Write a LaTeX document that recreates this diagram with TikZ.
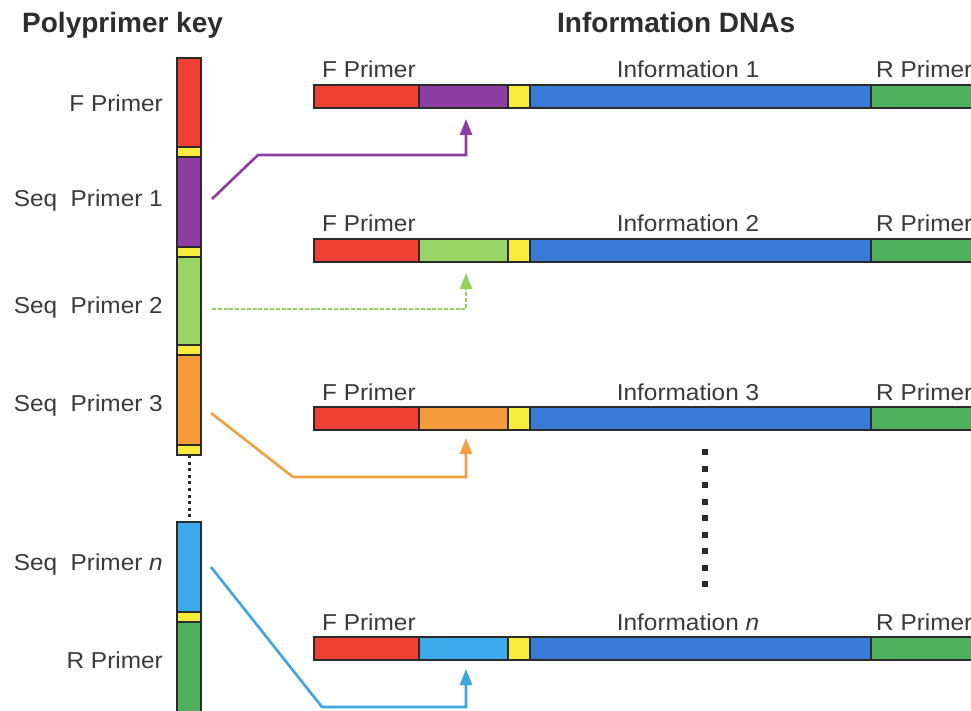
\documentclass[tikz,border=0pt]{standalone}
\usepackage{fontspec}
\setmainfont{Liberation Sans}
\newfontfamily\labfont[FakeStretch=1.06]{Liberation Sans}
\usetikzlibrary{arrows.meta,calc}
\definecolor{cred}{RGB}{240,64,54}
\definecolor{cpurple}{RGB}{142,62,162}
\definecolor{cgreenl}{RGB}{152,212,102}
\definecolor{corange}{RGB}{244,156,60}
\definecolor{cyellow}{RGB}{248,236,60}
\definecolor{cblue}{RGB}{56,122,214}
\definecolor{cbluel}{RGB}{60,170,234}
\definecolor{cgreen}{RGB}{78,176,92}
\definecolor{edgec}{RGB}{42,42,42}
\definecolor{textc}{RGB}{58,58,58}
\definecolor{titlec}{RGB}{45,45,45}
\definecolor{apurple}{RGB}{145,60,165}
\definecolor{agreen}{RGB}{150,208,95}
\definecolor{aorange}{RGB}{240,160,62}
\definecolor{ablue}{RGB}{62,165,225}
\begin{document}
\begin{tikzpicture}[x=1pt,y=-1pt,
  seg/.style={draw=edgec,line width=1.3pt,inner sep=0pt,outer sep=0pt,anchor=north west,minimum height=23pt},
  kseg/.style={draw=edgec,line width=1.3pt,inner sep=0pt,outer sep=0pt,anchor=north west,minimum width=24pt},
  lab/.style={text=textc,inner sep=0pt,font=\labfont\fontsize{23}{27}\selectfont},
  ttl/.style={text=titlec,inner sep=0pt,anchor=base west,font=\bfseries\fontsize{28}{32}\selectfont},
  conn/.style={line width=2.6pt,-{Triangle[length=16pt,width=12pt]}},
  keydots/.style={line width=3pt,dash pattern=on 3pt off 3.6pt,draw=edgec},
  bigdots/.style={line width=6pt,dash pattern=on 6pt off 10.5pt,draw=edgec},
]
\useasboundingbox (0,0) rectangle (971,711);
\fill[white] (0,0) rectangle (971,711);
\clip (0,0) rectangle (971,711);

% titles
\node[ttl] (t1) at (22,33) {Polyprimer key};
\node[ttl] (t2) at (557,33) {Information DNAs};

% polyprimer key column
\node[kseg,fill=cred,minimum height=89pt] (kf) at (177,58) {};
\node[kseg,fill=cyellow,minimum height=10pt] (ky1) at (177,147) {};
\node[kseg,fill=cpurple,minimum height=90pt] (k1) at (177,157) {};
\node[kseg,fill=cyellow,minimum height=10pt] (ky2) at (177,247) {};
\node[kseg,fill=cgreenl,minimum height=88pt] (k2) at (177,257) {};
\node[kseg,fill=cyellow,minimum height=10pt] (ky3) at (177,345) {};
\node[kseg,fill=corange,minimum height=90pt] (k3) at (177,355) {};
\node[kseg,fill=cyellow,minimum height=10pt] (ky4) at (177,445) {};
\node[kseg,fill=cbluel,minimum height=90pt] (kn) at (177,522) {};
\node[kseg,fill=cyellow,minimum height=10pt] (ky5) at (177,612) {};
\node[kseg,fill=cgreen,minimum height=90pt] (kr) at (177,622) {};
\draw[keydots] (ky4.south) -- (kn.north);

% key labels
\node[lab,anchor=base east] (lkf) at (163,112) {F Primer};
\node[lab,anchor=base east] (lk1) at (163,207) {Seq\ \ Primer 1};
\node[lab,anchor=base east] (lk2) at (163,313) {Seq\ \ Primer 2};
\node[lab,anchor=base east] (lk3) at (163,411) {Seq\ \ Primer 3};
\node[lab,anchor=base east] (lkn) at (163,570) {Seq\ \ Primer \textit{n}};
\node[lab,anchor=base east] (lkr) at (163,668) {R Primer};

% information DNA rows
\foreach \y/\c/\t [count=\k] in {85/cpurple/1, 239/cgreenl/2, 407/corange/3, 637/cbluel/\textit{n}} {
  \node[seg,fill=cred,minimum width=105pt] (f\k) at (314,\y) {};
  \node[seg,fill=\c,minimum width=89pt] (s\k) at (419,\y) {};
  \node[seg,fill=cyellow,minimum width=22pt] (y\k) at (508,\y) {};
  \node[seg,fill=cblue,minimum width=341pt] (i\k) at (530,\y) {};
  \node[seg,fill=cgreen,minimum width=140pt] (r\k) at (871,\y) {};
  \node[lab,anchor=base west] (lf\k) at (322,\y-7) {F Primer};
  \node[lab,anchor=base] (li\k) at (688,\y-7) {Information \t};
  \node[lab,anchor=base west] (lr\k) at (876,\y-7) {R Primer};
}

% vertical ellipsis between rows 3 and n
\draw[bigdots] ($(i3.south)+(4.5,19)$) -- ($(i4.north)+(4.5,-49)$);

% connectors
\draw[conn,draw=apurple] ($(k1.east)+(11,-3)$) -- (258,155) -| ($(s1.south)+(2.5,11)$);
\draw[conn,draw=agreen,dash pattern=on 4pt off 1.8pt] ($(k2.east)+(11,8)$) -| ($(s2.south)+(2.5,11)$);
\draw[conn,draw=aorange] ($(k3.east)+(10,13)$) -- (293,477) -| ($(s3.south)+(2.5,8)$);
\draw[conn,draw=ablue] ($(kn.east)+(10,0)$) -- (322,707) -| ($(s4.south)+(2.5,9)$);
\end{tikzpicture}
\end{document}
